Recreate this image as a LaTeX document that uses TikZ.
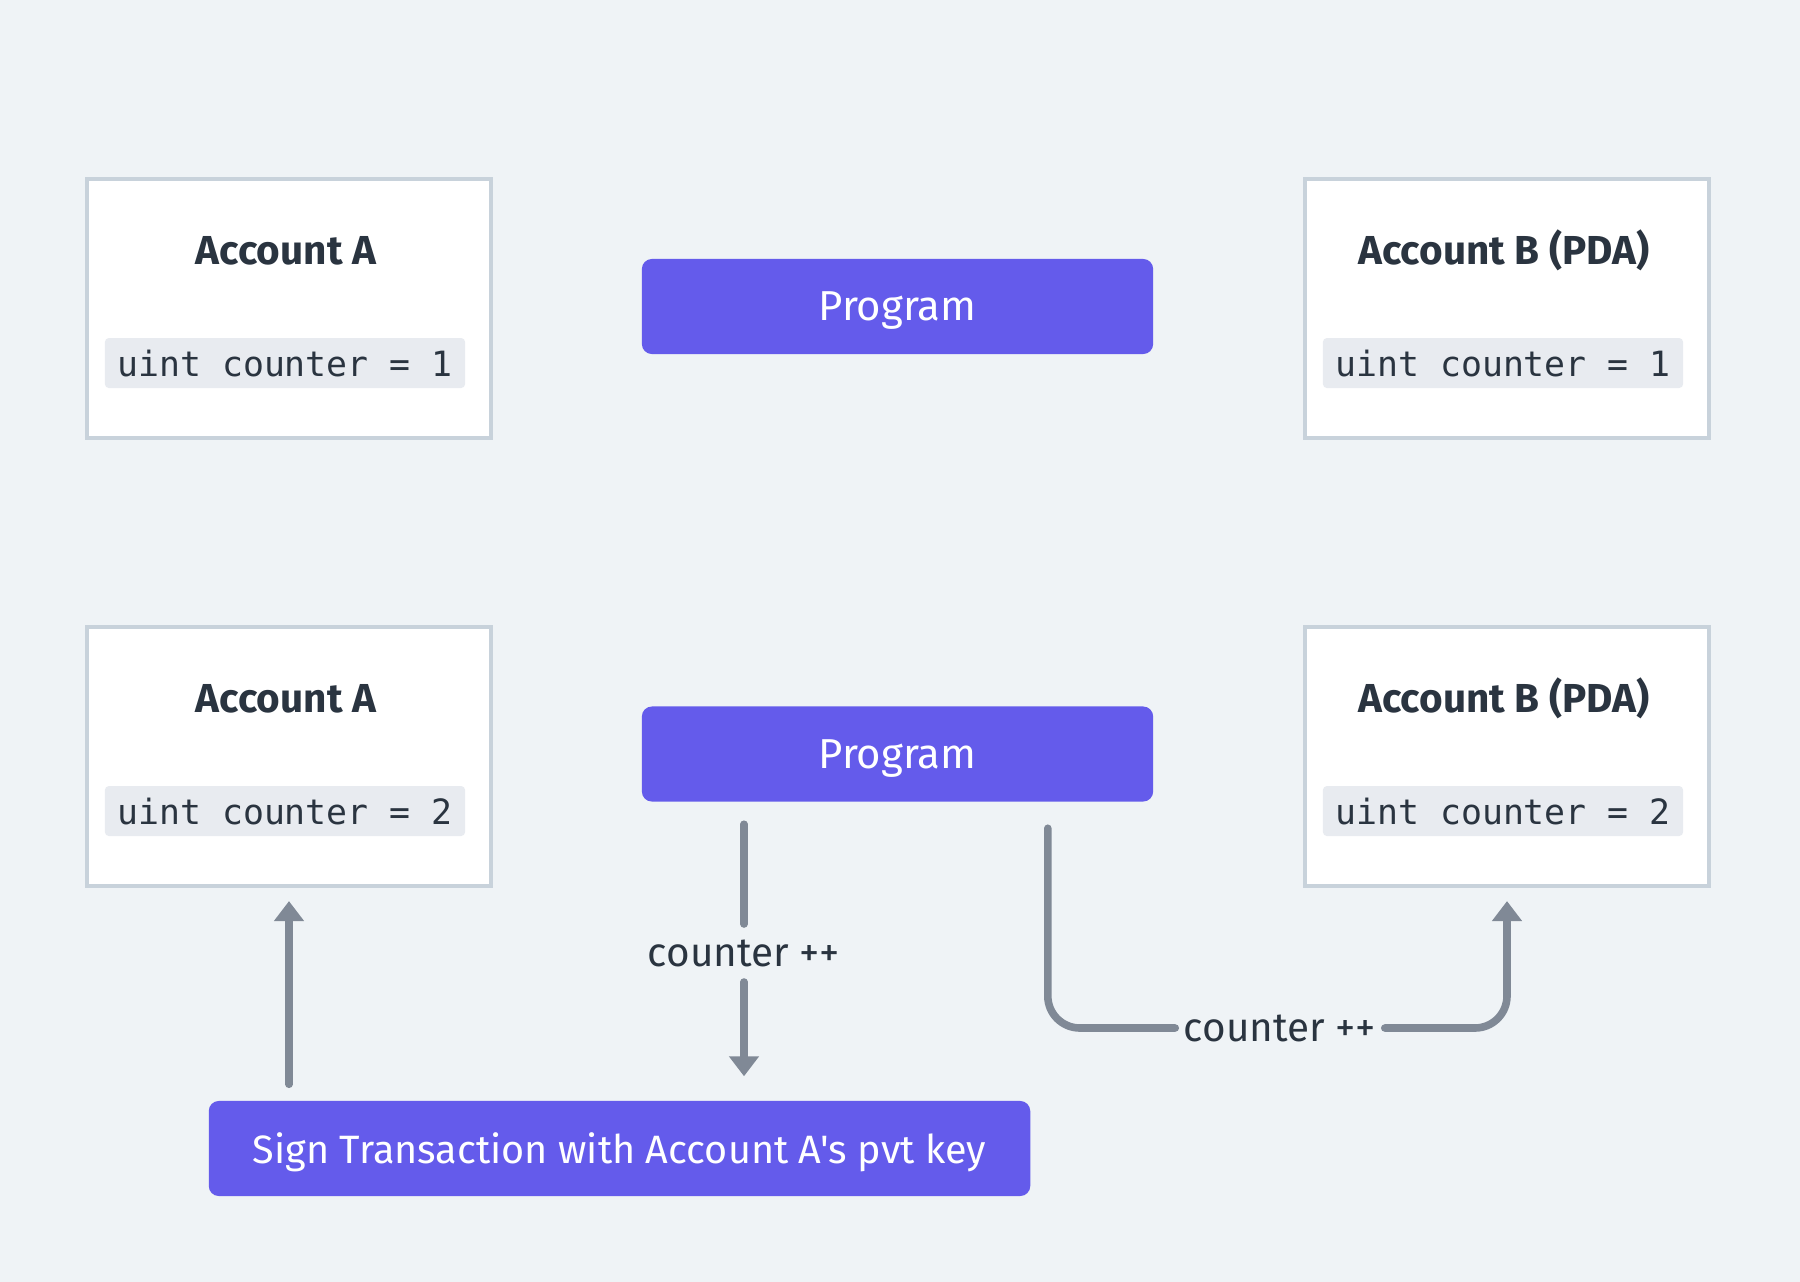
\documentclass[tikz,border=0pt]{standalone}
\usepackage{fontspec}
\setmainfont{Fira Sans}[Ligatures=TeXOff]
\setmonofont{DejaVu Sans Mono}
\usetikzlibrary{arrows.meta,positioning}

\definecolor{canvas}{RGB}{239,243,246}
\definecolor{frame}{RGB}{200,210,219}
\definecolor{codebg}{RGB}{232,235,240}
\definecolor{blurple}{RGB}{100,91,235}
\definecolor{wire}{RGB}{128,137,150}
\definecolor{ink}{RGB}{42,52,64}

\begin{document}
\begin{tikzpicture}[x=0.01cm, y=-0.01cm,
    account/.style={draw=frame, line width=0.04cm, fill=white, inner sep=0pt,
                    minimum width=4.04cm, minimum height=2.59cm},
    heading/.style={font=\fontsize{11.5}{14}\selectfont\bfseries, text=ink, inner sep=0pt},
    code/.style={fill=codebg, rounded corners=0.04cm, inner sep=0pt,
                 minimum width=3.6cm, minimum height=0.5cm,
                 font=\fontsize{9.9}{12}\selectfont\ttfamily, text=ink},
    action/.style={fill=blurple, rounded corners=0.1cm, inner sep=0pt, text=white,
                   text depth=0pt, font=\fontsize{11.9}{14}\selectfont},
    incr/.style={font=\fontsize{11.5}{14}\selectfont, text=ink, text depth=0pt,
                 inner xsep=0.08cm, inner ysep=0.15cm},
    flow/.style={draw=wire, line width=0.076cm, line cap=round},
    tip/.style={-{Triangle[width=0.29cm, length=0.2cm]}}]
  % An account box: #1 = name, #2/#3 = its center, #4 = title, #5 = value of the counter.
  % The title and the code line sit at fixed depths below the top edge.
  \newcommand{\accountbox}[5]{%
    \node[account] (#1) at (#2,#3) {};
    \node[heading, anchor=base] (#1-title) at ([xshift=-0.03cm, yshift=-0.88cm]#1.north) {#4};
    \node[code] (#1-code) at ([xshift=-0.04cm, yshift=-1.86cm]#1.north) {uint counter = #5};}

  \fill[canvas] (0,0) rectangle (1800,1282);
  \useasboundingbox (0,0) rectangle (1800,1282);

  % before the transaction
  \accountbox{accA1}{289}{308.5}{Account A}{1}
  \accountbox{accB1}{1507}{308.5}{Account B (PDA)}{1}
  \node[action, minimum width=5.11cm, minimum height=0.95cm] (prog1) at (897.5,306.5) {Program};

  % after the transaction
  \accountbox{accA2}{289}{756.5}{Account A}{2}
  \accountbox{accB2}{1507}{756.5}{Account B (PDA)}{2}
  \node[action, minimum width=5.11cm, minimum height=0.95cm] (prog2) at (897.5,754) {Program};
  \node[action, minimum width=8.21cm, minimum height=0.95cm,
        font=\fontsize{11.25}{14}\selectfont] (sign) at (619.5,1148.5)
       {Sign Transaction with Account A's pvt key};

  \node[incr] (inc1) at (744,953) {counter ++};
  \node[incr] (inc2) at (1280,1028) {counter ++};

  % signer -> account A, program -> signer, program -> account B
  \draw[flow, tip] ([yshift=0.16cm]sign.north -| accA2.south) -- ([yshift=-0.13cm]accA2.south);
  \draw[flow] ([yshift=-0.22cm]prog2.south -| inc1.north) -- (inc1.north);
  \draw[flow, tip] (inc1.south) -- ([yshift=0.24cm]sign.north -| inc1.south);
  \draw[flow, rounded corners=0.32cm] ([xshift=-1.06cm, yshift=-0.26cm]prog2.south east) |- (inc2.west);
  \draw[flow, tip, rounded corners=0.32cm] (inc2.east) -| ([yshift=-0.13cm]accB2.south);
\end{tikzpicture}
\end{document}
